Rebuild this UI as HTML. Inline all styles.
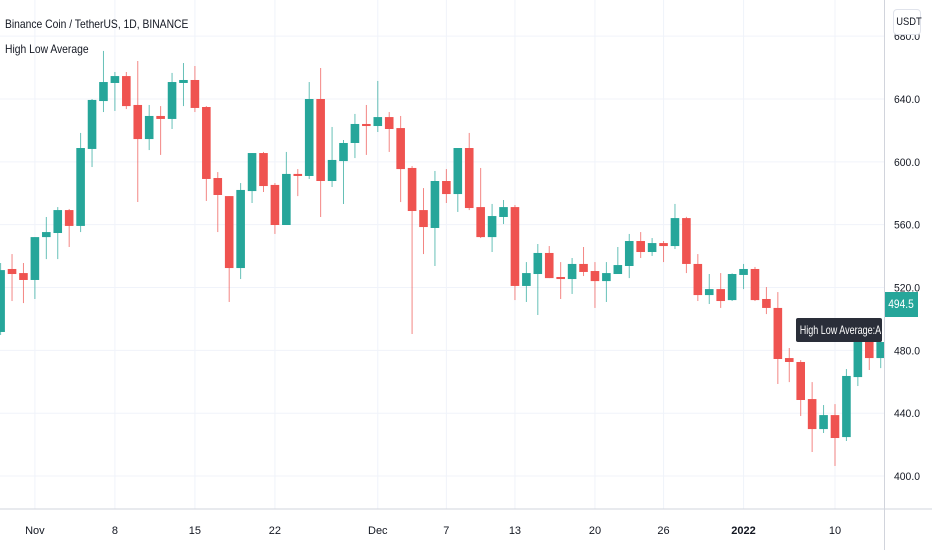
<!DOCTYPE html>
<html><head><meta charset="utf-8">
<style>
html,body{margin:0;padding:0;background:#fff;font-family:"Liberation Sans",sans-serif;}
#wrap{position:relative;width:932px;height:550px;overflow:hidden;font-family:"Liberation Sans",sans-serif;}
svg{position:absolute;left:0;top:0;}
</style></head>
<body>
<div id="wrap">
<svg id="chart" width="932" height="550"></svg>
<div style="position:absolute;left:5px;top:17px;font-size:12px;color:#131722;transform:scaleX(0.86);transform-origin:left;white-space:nowrap;">Binance Coin / TetherUS, 1D, BINANCE</div>
<div style="position:absolute;left:5px;top:42px;font-size:12px;color:#131722;transform:scaleX(0.86);transform-origin:left;white-space:nowrap;">High Low Average</div>
<div style="position:absolute;left:893px;top:9px;width:26px;height:24px;background:#fff;border:1px solid #e0e3eb;border-radius:4px;font-size:11px;line-height:24px;text-align:center;color:#131722;"><span style="display:inline-block;transform:scaleX(0.85);">USDT</span></div>
<div style="position:absolute;left:885px;top:292px;width:33px;height:25px;background:#26a69a;color:#fff;font-size:12px;line-height:25px;text-align:center;"><span style="display:inline-block;transform:scaleX(0.85);">494.5</span></div>
<div style="position:absolute;left:796px;top:318px;width:86px;height:24px;background:#2a2e39;border-radius:2px;color:#fff;font-size:12px;line-height:24px;white-space:nowrap;overflow:hidden;"><span style="display:inline-block;transform:scaleX(0.75);transform-origin:left;padding-left:5px;">High Low Average:A</span></div>
</div>
<script>
const opens  = [491.7,531.8,529.2,524.8,552.1,554.7,569.3,559.2,608.2,638.7,650.2,654.6,636.2,614.5,629.2,627.3,650.2,652.1,634.9,589.7,578.2,532.4,581.4,605.6,585.3,559.8,592.3,591.0,640.0,587.8,600.5,612.0,624.1,622.8,628.5,621.5,596.1,569.3,557.9,587.8,579.5,608.8,571.2,552.1,564.9,571.2,521.0,528.6,542.0,526.7,525.4,535.0,530.5,524.1,528.6,533.7,549.6,542.6,548.3,546.4,564.2,535.0,515.2,519.0,512.0,528.0,531.8,512.7,507.0,475.1,472.6,449.0,429.9,438.8,424.8,463.0,486.6,475.1];
const highs  = [535.6,541.3,535.6,552.1,564.9,571.2,570.0,618.4,640.0,670.6,657.2,657.2,664.2,636.2,635.5,656.6,662.9,661.0,635.5,593.5,578.2,586.5,605.6,606.3,586.5,606.3,595.4,650.8,659.7,622.2,613.9,630.5,636.2,651.5,631.7,629.2,597.3,583.3,594.2,595.4,608.8,618.4,596.1,573.2,575.7,572.5,536.2,547.7,546.4,536.2,538.8,545.8,536.2,536.2,545.8,554.1,555.3,551.5,549.6,573.2,565.0,541.3,528.6,529.2,529.0,535.0,533.1,520.3,517.1,481.5,473.8,459.8,445.2,445.8,468.1,490.0,490.0,488.0];
const lows   = [489.8,511.4,510.1,512.7,538.1,538.1,545.8,555.3,596.7,631.7,632.4,633.6,574.4,607.5,604.4,620.9,635.5,631.7,575.1,555.3,510.8,525.4,573.8,580.8,554.1,559.8,578.2,589.1,564.9,584.0,573.2,602.4,604.4,619.0,606.3,574.4,490.4,541.3,533.7,573.8,568.1,569.3,551.5,542.6,560.4,512.0,510.8,502.5,526.0,512.7,515.9,527.3,507.0,510.8,528.6,526.0,538.8,540.1,536.2,544.5,529.2,511.4,509.5,507.0,511.4,519.0,511.4,503.1,458.6,459.8,438.2,415.3,427.4,406.4,422.3,457.3,467.5,468.7];
const closes = [531.1,528.6,524.8,552.1,555.3,569.3,559.2,608.8,639.4,650.8,654.6,635.5,614.5,629.2,627.3,650.8,652.1,634.3,589.1,578.9,532.4,582.1,605.6,584.6,559.8,592.3,591.0,640.0,587.8,601.2,612.0,624.1,622.8,628.5,620.9,595.4,568.7,558.5,587.8,579.5,608.8,570.6,552.1,565.5,571.2,521.0,529.2,542.0,526.0,525.4,535.0,529.9,524.1,529.2,534.3,549.6,542.6,548.3,546.4,564.2,535.0,515.2,519.0,511.4,528.6,531.8,512.0,507.0,474.5,472.6,448.4,429.9,438.8,424.2,463.7,486.6,475.1,485.3];
const priceTicks = [680,640,600,560,520,480,440,400];
const timeLabels = ["Nov","8","15","22","Dec","7","13","20","26","2022","10"];
const timeLabelIdx = [3,10,17,24,33,39,45,52,58,65,73];

const NS="http://www.w3.org/2000/svg";
const svg=document.getElementById('chart');
const yOf=v=>99+(640-v)*1.571;
const xOf=i=>0.6+i*11.43;
function mk(tag,attrs,parent){const e=document.createElementNS(NS,tag);for(const k in attrs)e.setAttribute(k,attrs[k]);(parent||svg).appendChild(e);return e;}

const grid=mk('g',{});


priceTicks.forEach(v=>{mk('line',{x1:0,x2:884,y1:yOf(v),y2:yOf(v),stroke:'#f0f3fa','stroke-width':1},grid);});
timeLabelIdx.forEach(i=>{mk('line',{x1:xOf(i),x2:xOf(i),y1:0,y2:509,stroke:'#f0f3fa','stroke-width':1},grid);});

const cg=mk('g',{});


for(let i=0;i<opens.length;i++){
  const up=closes[i]>=opens[i];
  const col=up?'#26a69a':'#ef5350';
  const x=xOf(i);
  const g=mk('g',{},cg);
  
  
  mk('line',{x1:x,x2:x,y1:yOf(highs[i]),y2:yOf(lows[i]),stroke:col,'stroke-width':1,opacity:0.7},g);
  const t=yOf(Math.max(opens[i],closes[i])),b=yOf(Math.min(opens[i],closes[i]));
  mk('rect',{x:x-4.3,y:t,width:8.6,height:Math.max(1.5,b-t),fill:col},g);
}

mk('line',{x1:0,x2:932,y1:509,y2:509,stroke:'#d1d4dc','stroke-width':1});
mk('line',{x1:884.5,x2:884.5,y1:0,y2:550,stroke:'#d1d4dc','stroke-width':1});
const pa=mk('g',{});


priceTicks.forEach(v=>{const t=mk('text',{x:894,y:yOf(v)+4,'font-size':11,fill:'#131722','font-family':'Liberation Sans, sans-serif','textLength':26,'lengthAdjust':'spacingAndGlyphs'},pa);t.textContent=v.toFixed(1);});
const ta=mk('g',{});


timeLabels.forEach((s,k)=>{const t=mk('text',{x:xOf(timeLabelIdx[k]),y:534,'font-size':11,fill:'#131722','text-anchor':'middle','font-weight':s==='2022'?'bold':'normal','font-family':'Liberation Sans, sans-serif'},ta);t.textContent=s;});
</script>
</body></html>
